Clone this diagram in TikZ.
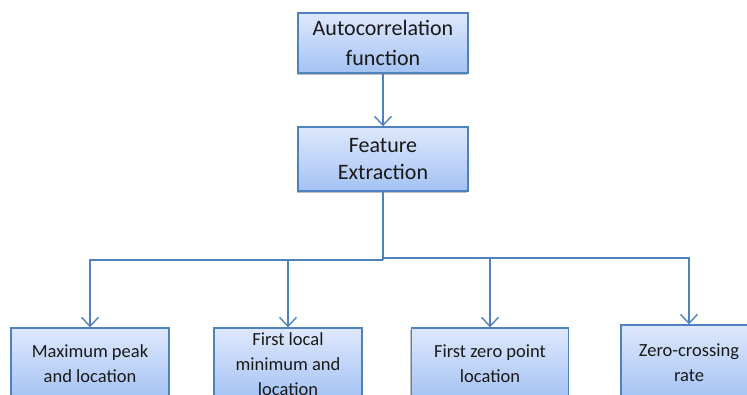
\documentclass[tikz,border=0pt]{standalone}
\usepackage{fontspec}
\setmainfont{Carlito}
\usetikzlibrary{arrows.meta,shadows}
\definecolor{edgeblue}{HTML}{4F81BD}
\definecolor{filltop}{HTML}{DEE8FC}
\definecolor{fillbot}{HTML}{A4C2F4}
\tikzset{
  box/.style={draw=edgeblue, line width=1.4pt, top color=filltop, bottom color=fillbot,
    align=center, inner sep=0pt, text=black!90,
    drop shadow={shadow xshift=-1.2pt, shadow yshift=-2.2pt, fill=black, opacity=0.25}},
  bigtext/.style={font=\fontsize{22}{30}\selectfont},
  midtext/.style={font=\fontsize{22}{27}\selectfont},
  smalltext/.style={font=\fontsize{18.5}{25}\selectfont},
  conn/.style={draw=edgeblue, line width=1.6pt, -{Straight Barb[length=9pt,width=17pt,line width=1.4pt]}},
  wire/.style={draw=edgeblue, line width=1.6pt}
}
\begin{document}
\begin{tikzpicture}[x=1pt,y=1pt]
\useasboundingbox (0,0) rectangle (747,394);

% top two stages
\node[box, bigtext, minimum width=170pt, minimum height=60pt] (acf) at (383,351)
  {Autocorrelation\\function};
\node[box, midtext, minimum width=170pt, minimum height=64pt] (feat) at (383,235)
  {Feature\\Extraction};

% extracted features
\node[box, smalltext, minimum width=158pt, minimum height=72pt] (peak) at (90,30)
  {Maximum peak\\and location};
\node[box, smalltext, minimum width=148pt, minimum height=72pt] (locmin) at (288,30)
  {First local\\minimum and\\location};
\node[box, smalltext, minimum width=157pt, minimum height=72pt] (zero) at (490,30)
  {First zero point\\location};
\node[box, smalltext, minimum width=136pt, minimum height=75pt] (zcr) at (689,31.5)
  {Zero-crossing\\rate};

% branching bus below the feature extraction stage
\coordinate (busL) at (383,134);
\coordinate (busR) at (383,136);

\draw[conn] (acf.south) -- (feat.north);
\draw[wire] (feat.south) -- (busL);
\draw[conn] (busL) -| (peak.north);
\draw[conn] (busL) -| (locmin.north);
\draw[conn] (busR) -| (zero.north);
\draw[conn] (busR) -| (zcr.north);
\end{tikzpicture}
\end{document}
